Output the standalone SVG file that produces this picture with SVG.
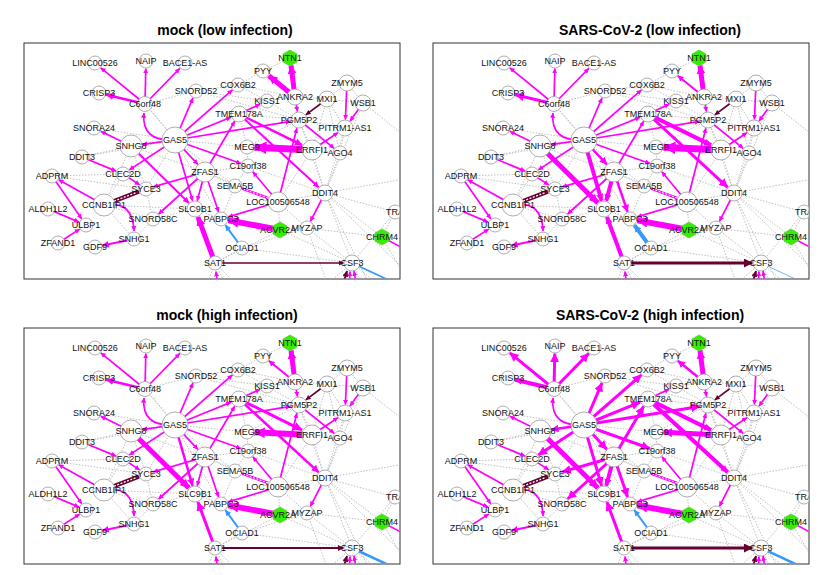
<svg xmlns="http://www.w3.org/2000/svg" xmlns:xlink="http://www.w3.org/1999/xlink" width="830" height="575" viewBox="0 0 830 575">
<style>
.title{font:bold 14px "Liberation Sans",Arial,sans-serif;text-anchor:middle;fill:#000}
.frame{fill:#fff;stroke:#333;stroke-width:1}
.g line{stroke:#b0b0b0;stroke-width:0.8;stroke-dasharray:1.5 1.5;fill:none}
.m{stroke:#f0f;fill:none;stroke-width:1.7;marker-end:url(#am)}
.mn{stroke:#f0f;fill:none;stroke-width:1.7}
.r{stroke:#603;fill:none;stroke-width:1.7;marker-end:url(#ar)}
.b{stroke:#39f;fill:none;stroke-width:2;marker-end:url(#ab)}
.bn{stroke:#39f;fill:none;stroke-width:1.7}
.n circle{fill:#fff;stroke:#999;stroke-width:0.8}
.n polygon{fill:#3e0;stroke:#6c4;stroke-width:0.8}
.n text{font:9px "Liberation Sans",Arial,sans-serif;text-anchor:middle;fill:#111}
</style>
<defs>
<marker id="am" viewBox="0 0 10 10" refX="9.5" refY="5" markerWidth="3" markerHeight="3" orient="auto"><path d="M0,0L10,5L0,10z" fill="#f0f"/></marker>
<marker id="amt" viewBox="0 0 10 10" refX="9.5" refY="5" markerWidth="1.8" markerHeight="1.8" orient="auto"><path d="M0,0L10,5L0,10z" fill="#f0f"/></marker>
<marker id="ar" viewBox="0 0 10 10" refX="9.5" refY="5" markerWidth="3" markerHeight="3" orient="auto"><path d="M0,0L10,5L0,10z" fill="#603"/></marker>
<marker id="ab" viewBox="0 0 10 10" refX="9.5" refY="5" markerWidth="3" markerHeight="3" orient="auto"><path d="M0,0L10,5L0,10z" fill="#39f"/></marker>
<marker id="abt" viewBox="0 0 10 10" refX="9.5" refY="5" markerWidth="1.8" markerHeight="1.8" orient="auto"><path d="M0,0L10,5L0,10z" fill="#39f"/></marker>
<clipPath id="clip"><rect x="24.5" y="43.5" width="375" height="235"/></clipPath>

<g id="gray" class="g">
<line x1="175" y1="140" x2="145" y2="104"/><line x1="175" y1="140" x2="131" y2="146"/><line x1="175" y1="137" x2="131" y2="150"/>
<line x1="175" y1="140" x2="267" y2="101"/><line x1="175" y1="140" x2="247" y2="147"/><line x1="175" y1="140" x2="235" y2="186"/>
<line x1="175" y1="140" x2="82" y2="157"/><line x1="175" y1="140" x2="146" y2="189"/><line x1="175" y1="140" x2="221" y2="219"/>
<line x1="131" y1="146" x2="205" y2="172"/><line x1="131" y1="146" x2="146" y2="189"/><line x1="131" y1="146" x2="104" y2="205"/>
<line x1="131" y1="146" x2="82" y2="157"/><line x1="145" y1="104" x2="196" y2="91"/><line x1="145" y1="104" x2="205" y2="172"/>
<line x1="94" y1="128" x2="175" y2="140"/><line x1="196" y1="91" x2="299" y2="120"/><line x1="196" y1="91" x2="238" y2="85"/>
<line x1="196" y1="91" x2="267" y2="101"/><line x1="238" y1="85" x2="263" y2="71"/><line x1="263" y1="71" x2="290" y2="58"/>
<line x1="238" y1="85" x2="267" y2="101"/><line x1="238" y1="85" x2="295" y2="97"/><line x1="267" y1="101" x2="295" y2="97"/>
<line x1="267" y1="101" x2="299" y2="120"/><line x1="239" y1="114" x2="299" y2="120"/><line x1="239" y1="114" x2="247" y2="147"/>
<line x1="295" y1="97" x2="327" y2="99"/><line x1="327" y1="99" x2="347" y2="83"/><line x1="327" y1="99" x2="363" y2="103"/>
<line x1="327" y1="99" x2="345" y2="128"/><line x1="327" y1="99" x2="312" y2="150"/><line x1="327" y1="99" x2="340" y2="153"/>
<line x1="347" y1="83" x2="363" y2="103"/><line x1="299" y1="120" x2="345" y2="128"/><line x1="299" y1="120" x2="312" y2="150"/>
<line x1="299" y1="120" x2="247" y2="147"/><line x1="299" y1="120" x2="325" y2="193"/><line x1="312" y1="150" x2="340" y2="153"/>
<line x1="340" y1="153" x2="345" y2="128"/><line x1="340" y1="153" x2="325" y2="193"/><line x1="363" y1="103" x2="325" y2="193"/>
<line x1="345" y1="128" x2="325" y2="193"/><line x1="363" y1="103" x2="410" y2="140"/><line x1="312" y1="150" x2="325" y2="193"/>
<line x1="312" y1="150" x2="278" y2="202"/><line x1="247" y1="147" x2="248" y2="166"/><line x1="248" y1="166" x2="205" y2="172"/>
<line x1="248" y1="166" x2="235" y2="186"/><line x1="235" y1="186" x2="205" y2="172"/><line x1="235" y1="186" x2="221" y2="219"/>
<line x1="205" y1="172" x2="278" y2="202"/><line x1="248" y1="166" x2="325" y2="193"/><line x1="278" y1="202" x2="325" y2="193"/>
<line x1="278" y1="202" x2="307" y2="228"/><line x1="278" y1="202" x2="280" y2="230"/><line x1="325" y1="193" x2="382" y2="237"/>
<line x1="325" y1="193" x2="352" y2="263"/><line x1="325" y1="193" x2="395" y2="212"/><line x1="325" y1="193" x2="410" y2="178"/>
<line x1="325" y1="193" x2="410" y2="275"/><line x1="325" y1="193" x2="372" y2="290"/><line x1="307" y1="228" x2="382" y2="237"/>
<line x1="307" y1="228" x2="352" y2="263"/><line x1="307" y1="228" x2="280" y2="230"/><line x1="280" y1="230" x2="352" y2="263"/>
<line x1="307" y1="228" x2="242" y2="248"/><line x1="307" y1="228" x2="330" y2="290"/><line x1="242" y1="248" x2="352" y2="263"/>
<line x1="352" y1="263" x2="395" y2="212"/><line x1="352" y1="263" x2="320" y2="290"/><line x1="352" y1="263" x2="335" y2="290"/>
<line x1="352" y1="263" x2="365" y2="290"/><line x1="352" y1="263" x2="385" y2="290"/><line x1="215" y1="263" x2="205" y2="290"/>
<line x1="215" y1="263" x2="228" y2="290"/><line x1="215" y1="263" x2="242" y2="290"/><line x1="215" y1="263" x2="242" y2="248"/>
<line x1="221" y1="219" x2="195" y2="209"/><line x1="195" y1="209" x2="153" y2="219"/><line x1="153" y1="219" x2="146" y2="189"/>
<line x1="104" y1="205" x2="134" y2="239"/><line x1="104" y1="205" x2="123" y2="174"/><line x1="104" y1="205" x2="153" y2="219"/>
<line x1="104" y1="205" x2="195" y2="209"/><line x1="52" y1="176" x2="123" y2="174"/><line x1="52" y1="176" x2="146" y2="189"/>
<line x1="134" y1="239" x2="153" y2="219"/><line x1="382" y1="237" x2="395" y2="212"/><line x1="382" y1="237" x2="410" y2="285"/>
<line x1="395" y1="212" x2="410" y2="200"/><line x1="205" y1="172" x2="195" y2="209"/><line x1="131" y1="146" x2="195" y2="209"/>
<line x1="175" y1="140" x2="205" y2="172"/><line x1="215" y1="263" x2="280" y2="230"/>
</g>

<g id="colored">
<line id="e1" class="m" x1="145" y1="104" x2="100.8" y2="67.8" style="stroke-width:var(--e1,1.7);marker-end:var(--m1,url(#am))"/>
<line id="e2" class="m" x1="145" y1="104" x2="145.8" y2="68.5" style="stroke-width:var(--e2,1.7);marker-end:var(--m2,url(#am))"/>
<line id="e3" class="m" x1="145" y1="104" x2="179.8" y2="68.4" style="stroke-width:var(--e3,1.7);marker-end:var(--m3,url(#am))"/>
<line id="e4" class="m" x1="145" y1="104" x2="106.3" y2="94.7" style="stroke-width:var(--e4,1.7);marker-end:var(--m4,url(#am))"/>
<path id="e5" class="m" d="M175,140 Q141,142 144,113" style="stroke-width:var(--e5,1.7)"/>
<line id="e6" class="m" x1="131" y1="146" x2="100.8" y2="131.3" style="stroke-width:var(--e6,1.7)"/>
<line id="e7" class="m" x1="175" y1="140" x2="142.4" y2="144.4" style="stroke-width:var(--e7,1.7)"/>
<line id="e8" class="m" x1="175" y1="140" x2="193" y2="97.9" style="stroke-width:var(--e8,1.7)"/>
<line id="e9" class="m" x1="175" y1="140" x2="232.4" y2="89.9" style="stroke-width:var(--e9,1.7)"/>
<line id="e10" class="m" x1="175" y1="140" x2="231.1" y2="117.2" style="stroke-width:var(--e10,1.7)"/>
<line id="e11" class="m" x1="175" y1="140" x2="290.6" y2="121.4" style="stroke-width:var(--e11,1.7)"/>
<line id="e12" class="m" x1="175" y1="140" x2="129.3" y2="169.9" style="stroke-width:var(--e12,1.7)"/>
<line id="e13" class="m" x1="82" y1="157" x2="116.1" y2="171.1" style="stroke-width:var(--e13,1.7)"/>
<line id="e14" class="m" x1="104" y1="205" x2="58.6" y2="179.7" style="stroke-width:var(--e14,1.7)"/>
<line id="e15" class="m" x1="52" y1="176" x2="81.7" y2="218.8" style="stroke-width:var(--e15,1.7)"/>
<line id="e16" class="m" x1="48" y1="209" x2="79.1" y2="222.1" style="stroke-width:var(--e16,1.7)"/>
<line id="e17" class="m" x1="58" y1="243" x2="79.7" y2="229.1" style="stroke-width:var(--e17,1.7)"/>
<path id="e18" class="m" d="M104,205 Q133,200 134,231" style="stroke-width:var(--e18,1.7)"/>
<line id="e19" class="m" x1="134" y1="239" x2="102.4" y2="245.5" style="stroke-width:var(--e19,2.2)"/>
<line id="e20" class="m" x1="205" y1="172" x2="153.2" y2="186.9" style="stroke-width:var(--e20,1.7)"/>
<line id="e21" class="m" x1="123" y1="174" x2="139.7" y2="184.9" style="stroke-width:var(--e21,1.7)"/>
<line id="e22" class="m" x1="205" y1="172" x2="158.6" y2="214" style="stroke-width:var(--e22,1.7)"/>
<line id="e23" class="m" x1="131" y1="146" x2="188.9" y2="203" style="stroke-width:var(--e23,2);marker-end:var(--m23,url(#am))"/>
<line id="e24" class="m" x1="175" y1="140" x2="197.8" y2="164.3" style="stroke-width:var(--e24,1.7)"/>
<line id="e25" class="m" x1="175" y1="140" x2="192.6" y2="200.8" style="stroke-width:var(--e25,1.7);marker-end:var(--m25,url(#am))"/>
<line id="e26" class="m" x1="205" y1="172" x2="197.2" y2="200.8" style="stroke-width:var(--e26,1.7);marker-end:var(--m26,url(#am))"/>
<line id="e27" class="m" x1="205" y1="172" x2="218.6" y2="211.9" style="stroke-width:var(--e27,1.7)"/>
<line id="e28" class="m" x1="175" y1="140" x2="240.9" y2="163.5" style="stroke-width:var(--e28,1.7)"/>
<line id="e29" class="m" x1="205" y1="172" x2="234.7" y2="121.3" style="stroke-width:var(--e29,1.7)"/>
<line id="e30" class="m" x1="239" y1="114" x2="302.1" y2="145.1" style="stroke-width:var(--e30,1.7);marker-end:var(--m30,url(#am))"/>
<line id="e31" class="m" x1="239" y1="114" x2="318.7" y2="187.3" style="stroke-width:var(--e31,1.7);marker-end:var(--m31,url(#am))"/>
<line id="e32" class="m" x1="239" y1="114" x2="260.2" y2="104.2" style="stroke-width:var(--e32,1.7)"/>
<line id="e33" class="m" x1="295" y1="97" x2="268.8" y2="75.7" style="stroke-width:var(--e33,1.7);marker-end:var(--m33,url(#am))"/>
<line id="e34" class="m" x1="295" y1="97" x2="291" y2="65.4" style="stroke-width:var(--e34,1.7);marker-end:var(--m34,url(#am))"/>
<line id="e35" class="m" x1="347" y1="83" x2="345.4" y2="119.5" style="stroke-width:var(--e35,1.7)"/>
<line id="e36" class="m" x1="363" y1="103" x2="350" y2="121.1" style="stroke-width:var(--e36,1.7)"/>
<line id="e37" class="m" x1="312" y1="150" x2="254.5" y2="147.3" style="stroke-width:var(--e37,1.7);marker-end:var(--m37,url(#am))"/>
<line id="e38" class="m" x1="299" y1="120" x2="334.2" y2="148.3" style="stroke-width:var(--e38,1.7)"/>
<line id="e39" class="m" x1="312" y1="150" x2="337.9" y2="132.7" style="stroke-width:var(--e39,1.7)"/>
<line id="e40" class="r" x1="327" y1="99" x2="305.8" y2="114.9" style="stroke-width:var(--e40,1.7)"/>
<line id="e41" class="m" x1="295" y1="97" x2="297.5" y2="111.6" style="stroke-width:var(--e41,1.7)"/>
<line id="e42" class="m" x1="278" y1="202" x2="296.9" y2="128.2" style="stroke-width:var(--e42,1.7)"/>
<line id="e43" class="m" x1="278" y1="202" x2="252.8" y2="171.8" style="stroke-width:var(--e43,1.7)"/>
<line id="e44" class="mn" x1="268" y1="198" x2="242" y2="188.6" style="stroke-width:2.6"/>
<line id="e44w" x1="268" y1="198" x2="244" y2="189.3" style="stroke:#fff;stroke-width:1;stroke-dasharray:2 1.5"/>
<line id="e45" class="m" x1="278" y1="202" x2="228.2" y2="216.9" style="stroke-width:var(--e45,1.7)"/>
<line id="e46" class="m" x1="280" y1="230" x2="228.4" y2="220.4" style="stroke-width:var(--e46,1.7);marker-end:var(--m46,url(#am))"/>
<line id="e47" class="m" x1="325" y1="193" x2="310.4" y2="221.3" style="stroke-width:var(--e47,1.7)"/>
<line id="e48" class="b" x1="242" y1="248" x2="225.4" y2="225.1" style="stroke-width:var(--e48,2);marker-end:var(--m48,url(#ab))"/>
<line id="e49" class="m" x1="215" y1="263" x2="197.9" y2="217" style="stroke-width:var(--e49,1.7);marker-end:var(--m49,url(#am))"/>
<line id="e50" class="r" x1="215" y1="263" x2="343.5" y2="263" style="stroke-width:var(--e50,1.7)"/>
<line id="e51" class="bn" x1="352" y1="263" x2="410" y2="290" style="stroke-width:var(--e51,1.7)"/>
<line id="e52" class="mn" x1="382" y1="237" x2="410" y2="252" style="stroke-width:var(--e52,1.7)"/>
<line id="e53a" class="r" x1="340" y1="295" x2="347" y2="271" style="stroke-width:var(--e53,2)"/>
<line id="e53b" class="m" x1="349" y1="295" x2="350" y2="271.5"/>
<line id="e53c" class="m" x1="358" y1="295" x2="354" y2="271"/>
<line id="e54" class="m" x1="219" y1="295" x2="216" y2="271.5"/>
<line id="e55" x1="113" y1="201.5" x2="139" y2="191.5" style="stroke:#603;stroke-width:4.5"/>
<line id="e55w" x1="114" y1="201.1" x2="137" y2="192.3" style="stroke:#fff;stroke-width:1.2;stroke-dasharray:2 1.5"/>
</g>

<g id="nodes">
<g id="n-LINC00526" class="n"><circle cx="95" cy="63" r="7"/><text x="95" y="66">LINC00526</text></g>
<g id="n-NAIP" class="n"><circle cx="146" cy="61" r="7"/><text x="146" y="64">NAIP</text></g>
<g id="n-BACE1-AS" class="n"><circle cx="185" cy="63" r="7"/><text x="185" y="66">BACE1-AS</text></g>
<g id="n-CRISP3" class="n"><circle cx="99" cy="93" r="7"/><text x="99" y="96">CRISP3</text></g>
<g id="n-C6orf48" class="n"><circle cx="145" cy="104" r="7.5"/><text x="145" y="107">C6orf48</text></g>
<g id="n-SNORD52" class="n"><circle cx="196" cy="91" r="7"/><text x="196" y="94">SNORD52</text></g>
<g id="n-SNORA24" class="n"><circle cx="94" cy="128" r="7"/><text x="94" y="131">SNORA24</text></g>
<g id="n-SNHG8" class="n"><circle cx="131" cy="146" r="11"/><text x="131" y="149">SNHG8</text></g>
<g id="n-GAS5" class="n"><circle cx="175" cy="140" r="13"/><text x="175" y="143">GAS5</text></g>
<g id="n-DDIT3" class="n"><circle cx="82" cy="157" r="7"/><text x="82" y="160">DDIT3</text></g>
<g id="n-NTN1" class="n"><polygon points="290,50 297,54 297,62 290,66 283,62 283,54"/><text x="290" y="61">NTN1</text></g>
<g id="n-PYY" class="n"><circle cx="263" cy="71" r="7"/><text x="263" y="74">PYY</text></g>
<g id="n-COX6B2" class="n"><circle cx="238" cy="85" r="7"/><text x="238" y="88">COX6B2</text></g>
<g id="n-ANKRA2" class="n"><circle cx="295" cy="97" r="8"/><text x="295" y="100">ANKRA2</text></g>
<g id="n-MXI1" class="n"><circle cx="327" cy="99" r="8"/><text x="327" y="102">MXI1</text></g>
<g id="n-ZMYM5" class="n"><circle cx="347" cy="83" r="8"/><text x="347" y="86">ZMYM5</text></g>
<g id="n-WSB1" class="n"><circle cx="363" cy="103" r="8"/><text x="363" y="106">WSB1</text></g>
<g id="n-KISS1" class="n"><circle cx="267" cy="101" r="7"/><text x="267" y="104">KISS1</text></g>
<g id="n-TMEM178A" class="n"><circle cx="239" cy="114" r="8"/><text x="239" y="117">TMEM178A</text></g>
<g id="n-PGM5P2" class="n"><circle cx="299" cy="120" r="8"/><text x="299" y="123">PGM5P2</text></g>
<g id="n-PITRM1-AS1" class="n"><circle cx="345" cy="128" r="8"/><text x="345" y="131">PITRM1-AS1</text></g>
<g id="n-MEG9" class="n"><circle cx="247" cy="147" r="7"/><text x="247" y="150">MEG9</text></g>
<g id="n-ERRFI1" class="n"><circle cx="312" cy="150" r="10"/><text x="312" y="153">ERRFI1</text></g>
<g id="n-AGO4" class="n"><circle cx="340" cy="153" r="7"/><text x="340" y="156">AGO4</text></g>
<g id="n-C19orf38" class="n"><circle cx="248" cy="166" r="7"/><text x="248" y="169">C19orf38</text></g>
<g id="n-ADPRM" class="n"><circle cx="52" cy="176" r="7"/><text x="52" y="179">ADPRM</text></g>
<g id="n-CLEC2D" class="n"><circle cx="123" cy="174" r="7"/><text x="123" y="177">CLEC2D</text></g>
<g id="n-SYCE3" class="n"><circle cx="146" cy="189" r="7"/><text x="146" y="192">SYCE3</text></g>
<g id="n-ZFAS1" class="n"><circle cx="205" cy="172" r="10"/><text x="205" y="175">ZFAS1</text></g>
<g id="n-CCNB1IP1" class="n"><circle cx="104" cy="205" r="11"/><text x="104" y="208">CCNB1IP1</text></g>
<g id="n-ALDH1L2" class="n"><circle cx="48" cy="209" r="7"/><text x="48" y="212">ALDH1L2</text></g>
<g id="n-ULBP1" class="n"><circle cx="86" cy="225" r="7"/><text x="86" y="228">ULBP1</text></g>
<g id="n-SNORD58C" class="n"><circle cx="153" cy="219" r="7"/><text x="153" y="222">SNORD58C</text></g>
<g id="n-SLC9B1" class="n"><circle cx="195" cy="209" r="8"/><text x="195" y="212">SLC9B1</text></g>
<g id="n-ZFAND1" class="n"><circle cx="58" cy="243" r="7"/><text x="58" y="246">ZFAND1</text></g>
<g id="n-GDF9" class="n"><circle cx="95" cy="247" r="7"/><text x="95" y="250">GDF9</text></g>
<g id="n-SNHG1" class="n"><circle cx="134" cy="239" r="7"/><text x="134" y="242">SNHG1</text></g>
<g id="n-SEMA5B" class="n"><circle cx="235" cy="186" r="7"/><text x="235" y="189">SEMA5B</text></g>
<g id="n-LOC100506548" class="n"><circle cx="278" cy="202" r="10"/><text x="278" y="205">LOC100506548</text></g>
<g id="n-DDIT4" class="n"><circle cx="325" cy="193" r="8"/><text x="325" y="196">DDIT4</text></g>
<g id="n-PABPC3" class="n"><circle cx="221" cy="219" r="7"/><text x="221" y="222">PABPC3</text></g>
<g id="n-ACVR2A" class="n"><polygon points="280,222 287,226 287,234 280,238 273,234 273,226"/><text x="278" y="233">ACVR2A</text></g>
<g id="n-MYZAP" class="n"><circle cx="307" cy="228" r="7"/><text x="307" y="231">MYZAP</text></g>
<g id="n-OCIAD1" class="n"><circle cx="242" cy="248" r="7"/><text x="242" y="251">OCIAD1</text></g>
<g id="n-SAT1" class="n"><circle cx="215" cy="263" r="7"/><text x="215" y="266">SAT1</text></g>
<g id="n-CSF3" class="n"><circle cx="352" cy="263" r="8"/><text x="352" y="266">CSF3</text></g>
<g id="n-CHRM4" class="n"><polygon points="382,229 389,233 389,241 382,245 375,241 375,233"/><text x="382" y="240">CHRM4</text></g>
<g id="n-TRA" class="n"><circle cx="395" cy="212" r="7"/><text x="395" y="215">TRA</text></g>
</g>
</defs>

<g id="panel-mock-low">
<text class="title" x="225" y="35">mock (low infection)</text>
<rect class="frame" x="24" y="43" width="376" height="236"/>
<g clip-path="url(#clip)">
<use href="#gray"/>
<use href="#colored" style="--e4:2.5;--e30:2.5;--e31:2;--e33:5;--m33:url(#amt);--e34:5;--m34:url(#amt);--e37:7;--m37:url(#amt);--e46:6;--m46:url(#amt);--e49:5;--m49:url(#amt)"/>
<use href="#nodes"/>
</g>
</g>

<g id="panel-sars-low" transform="translate(409,0)">
<text class="title" x="241" y="35">SARS-CoV-2 (low infection)</text>
<rect class="frame" x="24" y="43" width="376" height="236"/>
<g clip-path="url(#clip)">
<use href="#gray"/>
<use href="#colored" style="--e4:3;--e23:5;--m23:url(#amt);--e24:2.5;--e25:4;--m25:url(#amt);--e26:4;--m26:url(#amt);--e27:2.5;--e30:4;--m30:url(#amt);--e31:3;--e33:2;--e34:5;--m34:url(#amt);--e37:7;--m37:url(#amt);--e46:6;--m46:url(#amt);--e48:4;--m48:url(#abt);--e49:4;--m49:url(#amt);--e50:3;--e51:0.7"/>
<use href="#nodes"/>
</g>
</g>

<g id="panel-mock-high" transform="translate(0,285)">
<text class="title" x="227" y="35">mock (high infection)</text>
<rect class="frame" x="24" y="43" width="376" height="236"/>
<g clip-path="url(#clip)">
<use href="#gray"/>
<use href="#colored" style="--e4:2.5;--e23:5;--m23:url(#amt);--e25:2.5;--e30:3;--e31:2.5;--e33:2;--e34:5;--m34:url(#amt);--e37:6;--m37:url(#amt);--e46:6;--m46:url(#amt);--e48:2;--e49:3;--e50:2;--e51:2.5"/>
<use href="#nodes"/>
</g>
</g>

<g id="panel-sars-high" transform="translate(409,285)">
<text class="title" x="241" y="35">SARS-CoV-2 (high infection)</text>
<rect class="frame" x="24" y="43" width="376" height="236"/>
<g clip-path="url(#clip)">
<use href="#gray"/>
<use href="#colored" style="--e1:3;--e2:3;--e3:3;--e4:4;--m4:url(#amt);--e7:2.5;--e8:3;--e9:3;--e10:3;--e11:3;--e12:3;--e20:3;--e22:3;--e23:5;--m23:url(#amt);--e24:3;--e25:3;--e26:4;--m26:url(#amt);--e27:3;--e28:3;--e29:3;--e30:4;--m30:url(#amt);--e31:4;--m31:url(#amt);--e33:2.5;--e34:5;--m34:url(#amt);--e37:5;--m37:url(#amt);--e46:6;--m46:url(#amt);--e49:3;--e50:3;--e51:2.5"/>
<use href="#nodes"/>
</g>
</g>
</svg>
